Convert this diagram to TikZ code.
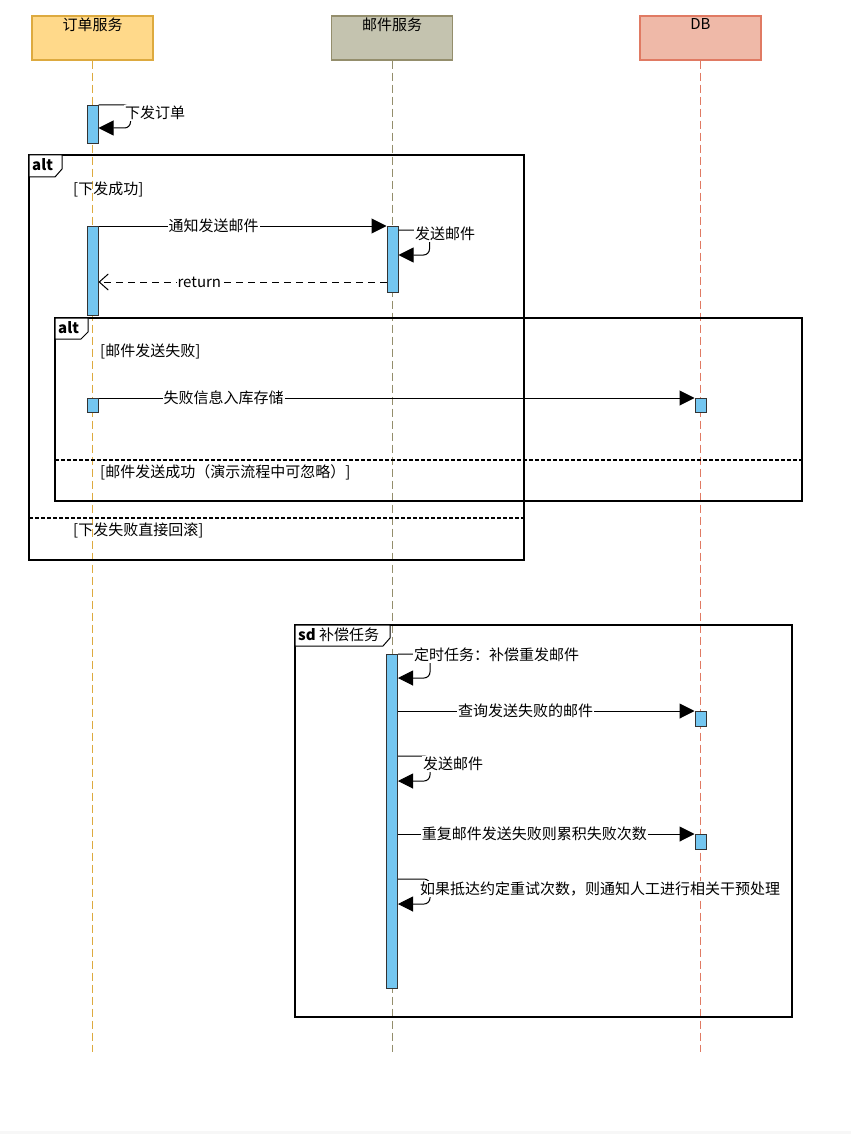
\documentclass[tikz,border=0pt]{standalone}
\usepackage{fontspec}
\setmainfont{Noto Sans CJK SC}
\usetikzlibrary{arrows.meta}

\definecolor{ordfill}{HTML}{FFD98A}
\definecolor{ordline}{HTML}{DDAA3F}
\definecolor{mailfill}{HTML}{C4C3AF}
\definecolor{mailline}{HTML}{948E6C}
\definecolor{dbfill}{HTML}{EFB9A8}
\definecolor{dbline}{HTML}{E07A63}
\definecolor{actfill}{HTML}{74C6F0}

\begin{document}
\begin{tikzpicture}[x=1pt,y=-1pt,
  every node/.style={font=\fontsize{15}{17}\selectfont, inner sep=1pt},
  hdr/.style={rectangle, minimum width=121pt, minimum height=44pt, line width=1.3pt},
  life/.style={dash pattern=on 8pt off 4pt, line width=1pt},
  actbar/.style={rectangle, draw=black!80, fill=actfill, minimum width=11pt, inner sep=0pt, line width=1pt, anchor=north},
  msg/.style={-{Triangle[length=15pt,width=15pt]}, line width=1pt},
  retmsg/.style={-{Straight Barb[length=9pt,width=16pt]}, dash pattern=on 7pt off 5pt, line width=1pt},
  selfmsg/.style={-{Triangle[length=15pt,width=15pt]}, line width=1pt, rounded corners=6pt},
  frame/.style={line width=1.5pt},
  fraglbl/.style={line width=1pt, fill=white},
  sep/.style={dash pattern=on 4pt off 2pt, line width=1.2pt},
  lbl/.style={fill=white},
  guard/.style={anchor=west}]

\useasboundingbox (0,0) rectangle (851,1134);
\fill[black!3] (0,1131) rectangle (851,1134);

%% lifeline heads
\node[hdr, fill=ordfill, draw=ordline, label={[anchor=north, yshift=-1.5pt]north:订单服务}] (order) at (92.5,38) {};
\node[hdr, fill=mailfill, draw=mailline, label={[anchor=north, yshift=-1.5pt]north:邮件服务}] (mail) at (392,38) {};
\node[hdr, fill=dbfill, draw=dbline, label={[anchor=north, yshift=-1.5pt]north:DB}] (db) at (700.5,38) {};

%% lifelines
\coordinate (orderend) at (92.5,1052);
\coordinate (mailend) at (392,1052);
\coordinate (dbend) at (700.5,1052);
\draw[life, ordline] (order.south) -- (orderend);
\draw[life, mailline] (mail.south) -- (mailend);
\draw[life, dbline] (db.south) -- (dbend);

%% outer alt
\draw[frame] (29,155) rectangle (524,560);
\draw[fraglbl] (29,155) -- (62,155) -- (62,169) -- (55,177) -- (29,177) -- cycle;
\node[anchor=west] (alta) at (31,165) {\bfseries alt};
\node[guard] (g1) at (72,189) {[下发成功]};
\draw[sep] (29,518) -- (524,518);
\node[guard] (g4) at (72,530) {[下发失败直接回滚]};

%% inner alt
\draw[frame] (55,318) rectangle (802,501);
\draw[fraglbl] (55,318) -- (88,318) -- (88,332) -- (81,339) -- (55,339) -- cycle;
\node[anchor=west] (altb) at (57,328) {\bfseries alt};
\node[guard] (g2) at (99,351) {[邮件发送失败]};
\draw[sep] (55,460) -- (802,460);
\node[guard] (g3) at (99,472) {[邮件发送成功（演示流程中可忽略）]};

%% sd frame
\draw[frame] (295,625) rectangle (792,1017);
\draw[fraglbl] (295,625) -- (390,625) -- (390,638) -- (383,646) -- (295,646) -- cycle;
\node[anchor=west] (sd) at (297,635) {\textbf{sd} 补偿任务};

%% activation bars
\node[actbar, minimum height=38pt] (oa1) at (92.5,105) {};
\node[actbar, minimum height=89pt] (oa2) at (92.5,226) {};
\node[actbar, minimum height=14pt] (oa3) at (92.5,398) {};
\node[actbar, minimum height=66pt] (ma1) at (392.5,226) {};
\node[actbar, minimum height=14pt] (db1) at (700.5,398) {};
\node[actbar, minimum height=334pt] (ma2) at (392,654) {};
\node[actbar, minimum height=15pt] (db2) at (700.5,711) {};
\node[actbar, minimum height=15pt] (db3) at (700.5,834) {};

%% self calls
\coordinate (s1) at (0,128);
\draw[selfmsg] (oa1.north east) -- ++(32,0) |- (oa1.east |- s1);
\node[anchor=west, lbl] (t1) at (124,113) {下发订单};

\coordinate (s2a) at (0,230);
\coordinate (s2b) at (0,255);
\draw[selfmsg] (ma1.east |- s2a) -- ++(31,0) |- (ma1.east |- s2b);
\node[anchor=west, lbl] (t2) at (414,234) {发送邮件};

\coordinate (s3) at (0,678);
\draw[selfmsg] (ma2.north east) -- ++(32,0) |- (ma2.east |- s3);
\node[anchor=west, lbl] (t3) at (413,655) {定时任务：补偿重发邮件};

\coordinate (s4a) at (0,756);
\coordinate (s4b) at (0,781);
\draw[selfmsg] (ma2.east |- s4a) -- ++(32,0) |- (ma2.east |- s4b);
\node[anchor=west, lbl] (t4) at (422,764) {发送邮件};

\coordinate (s5a) at (0,879);
\coordinate (s5b) at (0,904);
\draw[selfmsg] (ma2.east |- s5a) -- ++(32,0) |- (ma2.east |- s5b);
\node[anchor=west, lbl] (t5) at (419,889) {如果抵达约定重试次数，则通知人工进行相关干预处理};

%% messages
\draw[msg] (oa2.north east) -- (ma1.north west) node[pos=0.4, lbl] {通知发送邮件};
\coordinate (ret) at (0,282);
\draw[retmsg] (ma1.west |- ret) -- (oa2.east |- ret) node[pos=0.65, lbl] {return};
\draw[msg] (oa3.north east) -- (db1.north west) node[pos=0.21, lbl] {失败信息入库存储};
\draw[msg] (db2.north west -| ma2.east) -- (db2.north west) node[pos=0.43, lbl] {查询发送失败的邮件};
\draw[msg] (db3.north west -| ma2.east) -- (db3.north west) node[pos=0.46, lbl] {重复邮件发送失败则累积失败次数};

\end{tikzpicture}
\end{document}
